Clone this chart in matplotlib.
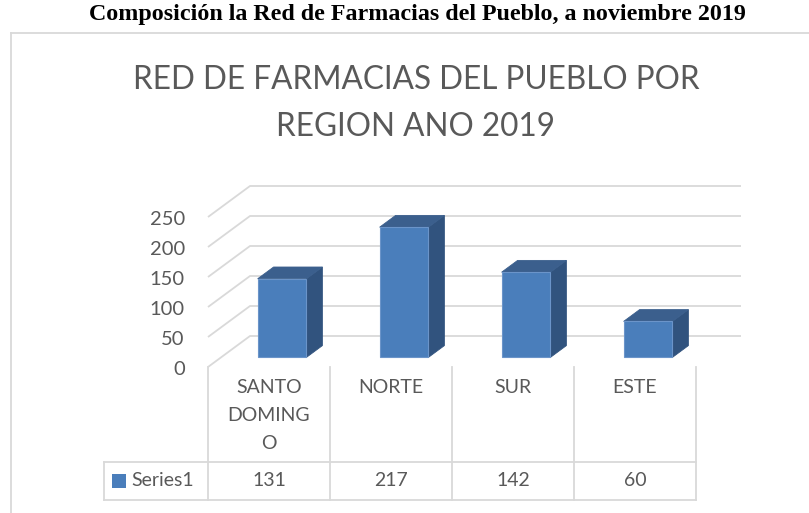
import matplotlib
matplotlib.use("Agg")
import matplotlib.pyplot as plt
from matplotlib.patches import Polygon, Rectangle
from matplotlib.lines import Line2D

# ---- data ----
categories = ["SANTO\nDOMING\nO", "NORTE", "SUR", "ESTE"]
values = [131, 217, 142, 60]
yticks = [0, 50, 100, 150, 200, 250]
series_name = "Series1"
heading = "Composición la Red de Farmacias del Pueblo, a noviembre 2019"
title_lines = ["RED DE FARMACIAS DEL PUEBLO POR", "REGION ANO 2019"]

# ---- style ----
W, H = 809, 513
TXT = "#595959"
GRID = "#d9d9d9"
FRONT = "#4a7ebb"
TOP = "#3b5f8d"
SIDE = "#31537e"
FONT = ["Lato", "DejaVu Sans"]

fig = plt.figure(figsize=(W / 100, H / 100), dpi=100)

def fx(px):
    return px / W

def fy(py):
    return (H - py) / H

# outer chart border
fig.add_artist(Line2D([fx(11), fx(809)], [fy(33), fy(33)], color=GRID, lw=1.3, transform=fig.transFigure))
fig.add_artist(Line2D([fx(11), fx(11)], [fy(33), fy(513)], color=GRID, lw=1.3, transform=fig.transFigure))

# heading & chart title
fig.text(fx(417), fy(20), heading, ha="center", va="baseline",
         family=["Liberation Serif", "DejaVu Serif"], weight="bold", fontsize=17.3, color="black")
fig.text(fx(416), fy(89), title_lines[0], ha="center", va="baseline",
         family=FONT, weight="normal", fontsize=22.7, color=TXT)
fig.text(fx(416), fy(136), title_lines[1], ha="center", va="baseline",
         family=FONT, weight="normal", fontsize=22.7, color=TXT)

# plot axes (front plane mapping)
PX_PER_CAT = 122.0
PX_PER_UNIT = 0.6
ax_left, ax_right, ax_bot, ax_top = 208, 741, 367, 185
ax = fig.add_axes([fx(ax_left), fy(ax_bot), (ax_right - ax_left) / W, (ax_bot - ax_top) / H])
ax.set_xlim(-0.5, -0.5 + (ax_right - ax_left) / PX_PER_CAT)
ax.set_ylim(0, (ax_bot - ax_top) / PX_PER_UNIT)
ax.axis("off")

DEPTH_DX = 42 / PX_PER_CAT
DEPTH_DY = 31 / PX_PER_UNIT
BAR_Z0 = 0.31
BAR_DZ = 0.38
BAR_W = 0.40
xmax = ax.get_xlim()[1]

# gridlines: diagonal on left side wall + back wall horizontal
for v in yticks:
    ax.plot([-0.5, -0.5 + DEPTH_DX, xmax], [v, v + DEPTH_DY, v + DEPTH_DY],
            color=GRID, lw=1.3, clip_on=False, zorder=1, solid_capstyle="butt")
    ax.text(-0.69, v - 4, str(v), ha="right", va="center", family=FONT,
            fontsize=14.5, color=TXT, clip_on=False)

# 3D bars
for i, v in enumerate(values):
    x0 = i - BAR_W / 2 + BAR_Z0 * DEPTH_DX
    x1 = x0 + BAR_W
    b = BAR_Z0 * DEPTH_DY
    t = b + v
    ddx = BAR_DZ * DEPTH_DX
    ddy = BAR_DZ * DEPTH_DY
    ax.add_patch(Polygon([(x1, b), (x1 + ddx, b + ddy), (x1 + ddx, t + ddy), (x1, t)],
                         closed=True, facecolor=SIDE, edgecolor=SIDE, lw=0.6, zorder=3, clip_on=False))
    ax.add_patch(Polygon([(x0, t), (x1, t), (x1 + ddx, t + ddy), (x0 + ddx, t + ddy)],
                         closed=True, facecolor=TOP, edgecolor=TOP, lw=0.6, zorder=3, clip_on=False))
    ax.add_patch(Polygon([(x0, b), (x1, b), (x1, t), (x0, t)],
                         closed=True, facecolor=FRONT, edgecolor="#6b94c9", lw=0.8, zorder=4, clip_on=False))

# data table (x in data, y in axes fraction)
tr = ax.get_xaxis_transform()
def yf(py):
    return (ax_bot - py) / (ax_bot - ax_top)

n = len(categories)
row_top, row_mid, row_bot = 367, 462, 500
left_cell = -0.5 - (208 - 104) / PX_PER_CAT
for k in range(n + 1):
    ax.plot([-0.5 + k, -0.5 + k], [yf(row_top), yf(row_bot)], color=GRID, lw=1.3,
            transform=tr, clip_on=False)
ax.plot([left_cell, -0.5 + n], [yf(row_mid), yf(row_mid)], color=GRID, lw=1.3, transform=tr, clip_on=False)
ax.plot([left_cell, -0.5 + n], [yf(row_bot), yf(row_bot)], color=GRID, lw=1.3, transform=tr, clip_on=False)
ax.plot([left_cell, left_cell], [yf(row_mid), yf(row_bot)], color=GRID, lw=1.3, transform=tr, clip_on=False)

for i, (c, v) in enumerate(zip(categories, values)):
    ax.text(i, yf(379), c, ha="center", va="top", family=FONT, fontsize=14,
            color=TXT, linespacing=1.8, transform=tr, clip_on=False)
    ax.text(i, yf(481), str(v), ha="center", va="center", family=FONT, fontsize=14,
            color=TXT, transform=tr, clip_on=False)

sq_x = -0.5 - (208 - 112) / PX_PER_CAT
ax.add_patch(Rectangle((sq_x, yf(488)), 14 / PX_PER_CAT, (488 - 474) / (ax_bot - ax_top),
                       transform=tr, facecolor=FRONT, edgecolor="none", clip_on=False))
ax.text(-0.5 - (208 - 131) / PX_PER_CAT, yf(481), series_name, ha="left", va="center",
        family=FONT, fontsize=14, color=TXT, transform=tr, clip_on=False)

fig.savefig("out.png", dpi=100)
